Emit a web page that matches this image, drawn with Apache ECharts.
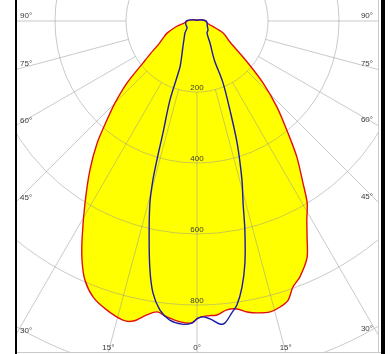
<!DOCTYPE html>
<html>
<head>
<meta charset="utf-8">
<script src="https://cdn.jsdelivr.net/npm/echarts@6/dist/echarts.min.js"></script>
<style>
  html, body { margin: 0; padding: 0; background: #fff; }
  #chart { width: 390px; height: 354px; }
</style>
</head>
<body>
<div id="chart"></div>
<script>
// Luminous intensity distribution (cd/klm). Angles in degrees:
// 0 points straight down, positive angles open to the left.
const redAngles = [180, 150, 120, 100, 90, 82, 75, 68, 63, 59, 55, 52, 48.5, 45, 42.3, 39.3, 35.7, 31.6, 28, 25.7, 23.4, 20.6, 17.3, 13.9, 12, 9.7, 7.8, 5.8, 3.2, 1,
  -0.2, -1.9, -3.9, -5.9, -7.9, -9.8, -11.8, -14.1, -16.2, -18.1, -19.8, -21.9, -24.9, -27, -28.9, -31.2, -33.2, -36.3, -39.1, -42.9, -46.8, -50.5, -57.5, -65.2, -78.7, -90, -100, -120, -150];
const redValues = [2, 3, 6, 18, 28, 36, 60, 91, 108, 125, 160, 195, 263, 327, 377, 444, 517, 602, 689, 747, 795, 831, 853, 868, 864, 840, 827, 838, 849, 851,
  837, 831, 830, 818, 819, 832, 840, 845, 839, 827, 797, 777, 736, 683, 640, 599, 545, 475, 406, 331, 255, 186, 110, 81, 29, 24, 16, 6, 3];

const blueAngles = [180, 150, 120, 100, 90, 75, 62, 55, 45, 36, 30, 24, 20.3, 18.9, 16.9, 16.1, 15.5, 14.5, 12.5, 10.7, 9.2, 7.3, 5.2, 2.8, 1,
  -0.2, -1.5, -2.9, -4.3, -5.3, -6.8, -8, -9.6, -11.2, -12.9, -14.2, -15.8, -18.2, -20.3, -22.8, -24, -30.6, -39.8, -50.7, -65, -78.7, -90, -100, -120, -150];
const blueValues = [2, 3, 6, 18, 30, 33, 33, 34, 48, 62, 78, 105, 138, 235, 330, 407, 465, 530, 623, 714, 776, 821, 846, 855, 851,
  837, 834, 843, 856, 854, 828, 808, 760, 695, 604, 529, 465, 362, 267, 189, 120, 72, 44, 40, 32, 29, 26, 16, 6, 3];

const ringLabels = [200, 400, 600, 800];
const angleLabels = [90, 75, 60, 45, 30, 15, 0, -15, -30, -45, -60, -75, -90];

// Layout of the polar grid
const CX = 197, CY = 21;
const PX_PER_CD = 0.355;
const R_MAX = 1200;
const R_OUT = R_MAX * PX_PER_CD;
const R_IN = 200 * PX_PER_CD;
const GRID = 'rgba(150,150,150,0.5)';
const TEXT = '#3a3a3a';
const FONT = '8px "Liberation Sans", Arial, sans-serif';
const frame = { left: 15, right: 378, bottom: 352 };

const toAxisAngle = g => (g < 0 ? g + 360 : g);
const redPts = redAngles.map((g, i) => [redValues[i], toAxisAngle(g)]);
const bluePts = blueAngles.map((g, i) => [blueValues[i], toAxisAngle(g)]);

// spokes only between -90 and +90
const spokeColors = [];
for (let a = 0; a <= 360; a += 15) spokeColors.push(a <= 90 || a >= 270 ? GRID : 'rgba(0,0,0,0)');

function curve(points, style, z) {
  return {
    type: 'custom',
    coordinateSystem: 'polar',
    polarIndex: 0,
    data: points,
    z: z,
    clip: false,
    silent: true,
    renderItem(params, api) {
      if (params.dataIndex !== 0) return null;
      const pts = points.map(p => api.coord(p));
      return { type: 'polygon', shape: { points: pts, smooth: 0.3 }, style: style };
    }
  };
}

// where a spoke meets the frame
function edgePoint(g) {
  const rad = g * Math.PI / 180;
  const dx = -Math.sin(rad), dy = Math.cos(rad);
  if (Math.abs(dx) > 1e-9) {
    const fx = dx < 0 ? frame.left : frame.right;
    const t = (fx - CX) / dx;
    const y = CY + t * dy;
    if (y <= frame.bottom) return { side: dx < 0 ? 'left' : 'right', x: fx, y: y };
  }
  const t = (frame.bottom - CY) / dy;
  return { side: 'bottom', x: CX + t * dx, y: frame.bottom };
}

function textEl(text, x, y, align, valign) {
  return {
    type: 'text', x: x, y: y, z: 120,
    style: { text: text, fill: TEXT, font: FONT, align: align, verticalAlign: valign, textAlign: align, textVerticalAlign: valign }
  };
}

const labelEls = angleLabels.map(g => {
  const p = edgePoint(g);
  const txt = Math.abs(g) + '°';
  if (p.side === 'left') return textEl(txt, 20, p.y - 1.5, 'left', 'bottom');
  if (p.side === 'right') return textEl(txt, 373, p.y - 1.5, 'right', 'bottom');
  return textEl(txt, p.x, frame.bottom - 0.5, 'center', 'bottom');
});

const frameEls = [
  { type: 'rect', z: 100, shape: { x: 0, y: 0, width: 15, height: 354 }, style: { fill: '#fff' } },
  { type: 'rect', z: 100, shape: { x: 379, y: 0, width: 11, height: 354 }, style: { fill: '#fff' } },
  { type: 'rect', z: 100, shape: { x: 15, y: 353, width: 366, height: 1 }, style: { fill: '#fff' } },
  { type: 'line', z: 101, shape: { x1: 378.5, y1: 0, x2: 378.5, y2: 353 }, style: { stroke: '#c8c8c8', lineWidth: 1 } },
  { type: 'line', z: 101, shape: { x1: 15, y1: 352.5, x2: 381, y2: 352.5 }, style: { stroke: '#c8c8c8', lineWidth: 1 } },
  { type: 'rect', z: 102, shape: { x: 15, y: 0, width: 2, height: 354 }, style: { fill: '#000' } },
  { type: 'rect', z: 102, shape: { x: 381, y: 0, width: 4, height: 354 }, style: { fill: '#000' } }
];

const chart = echarts.init(document.getElementById('chart'), null, { renderer: 'canvas' });
chart.setOption({
  animation: false,
  backgroundColor: '#fff',
  polar: [
    { center: [CX, CY], radius: [0, R_OUT] },
    { center: [CX, CY], radius: [R_IN, R_OUT] }
  ],
  angleAxis: [
    {
      polarIndex: 0, type: 'value', min: 0, max: 360, interval: 15, startAngle: -90, clockwise: true, z: 3,
      axisLine: { show: false }, axisTick: { show: false }, axisLabel: { show: false }, splitLine: { show: false }
    },
    {
      polarIndex: 1, type: 'value', min: 0, max: 360, interval: 15, startAngle: -90, clockwise: true, z: 3,
      axisLine: { show: false }, axisTick: { show: false }, axisLabel: { show: false },
      splitLine: { show: true, lineStyle: { color: spokeColors, width: 1 } }
    }
  ],
  radiusAxis: [
    {
      polarIndex: 0, type: 'value', min: 0, max: R_MAX, interval: 200, z: 3,
      axisLine: { show: false }, axisTick: { show: false },
      splitLine: { show: true, lineStyle: { color: GRID, width: 1 } },
      axisLabel: {
        show: true, margin: 0, color: TEXT, fontSize: 8, fontFamily: '"Liberation Sans", Arial, sans-serif',
        align: 'center', verticalAlign: 'bottom',
        formatter: v => (ringLabels.indexOf(v) >= 0 ? String(v) : '')
      }
    },
    {
      polarIndex: 1, type: 'value', min: 200, max: R_MAX, interval: 200,
      axisLine: { show: false }, axisTick: { show: false }, axisLabel: { show: false }, splitLine: { show: false }
    }
  ],
  series: [
    curve(redPts, { fill: '#ffff00', stroke: 'none' }, 1),
    curve(redPts, { fill: 'none', stroke: '#e01010', lineWidth: 1.4 }, 4),
    curve(bluePts, { fill: 'none', stroke: '#1a1aa8', lineWidth: 1.4 }, 5)
  ],
  graphic: { elements: frameEls.concat(labelEls) }
});
</script>
</body>
</html>
